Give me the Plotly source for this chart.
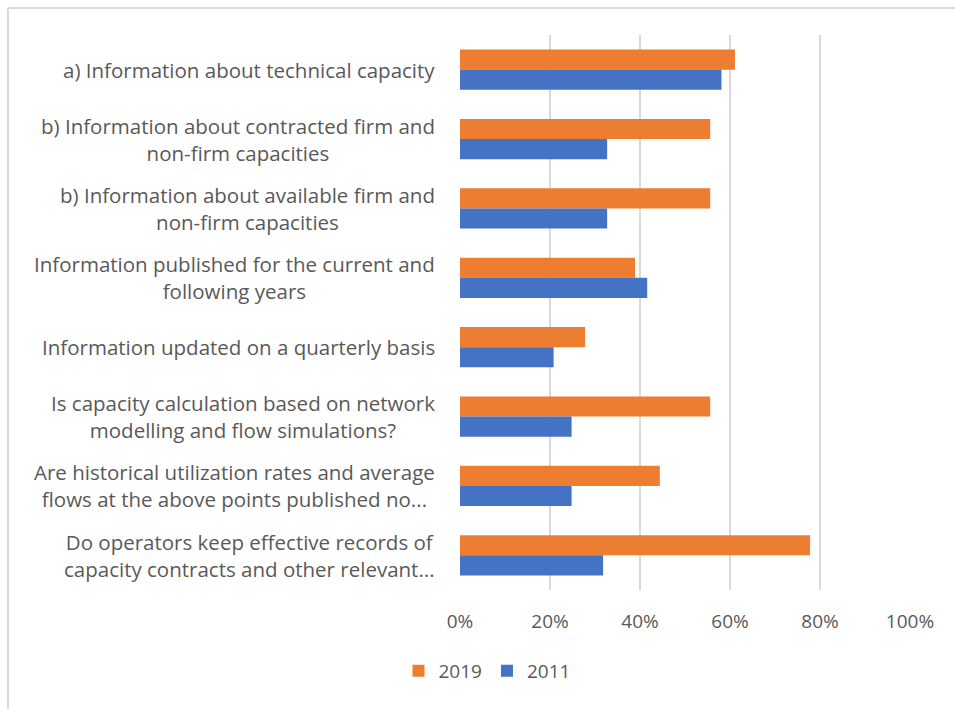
import plotly.graph_objects as go

categories = [
    "a) Information about technical capacity",
    "b) Information about contracted firm and<br>non-firm capacities",
    "b) Information about available firm and<br>non-firm capacities",
    "Information published for the current and<br>following years",
    "Information updated on a quarterly basis",
    "Is capacity calculation based on network<br>modelling and flow simulations?",
    "Are historical utilization rates and average<br>flows at the above points published no...",
    "Do operators keep effective records of<br>capacity contracts and other relevant...",
]
cat_ids = [f"c{i}" for i in range(len(categories))]
values_2019 = [0.611, 0.556, 0.556, 0.389, 0.278, 0.556, 0.444, 0.778]
values_2011 = [0.581, 0.327, 0.327, 0.416, 0.208, 0.248, 0.248, 0.318]
x_ticks = [0, 0.2, 0.4, 0.6, 0.8, 1.0]
x_tick_labels = ["0%", "20%", "40%", "60%", "80%", "100%"]

ORANGE = "#ED7D31"
BLUE = "#4472C4"
TXT = "#595959"
FONT = "Open Sans"

W, H = 955, 709
L, R, T, B = 460, 45, 35, 119
pw, ph = W - L - R, H - T - B

fig = go.Figure()
fig.add_trace(go.Bar(y=cat_ids, x=values_2019, name="2019", orientation="h",
                     marker=dict(color=ORANGE, line=dict(width=0))))
fig.add_trace(go.Bar(y=cat_ids, x=values_2011, name="2011", orientation="h",
                     marker=dict(color=BLUE, line=dict(width=0))))

annotations = []
for cid, label in zip(cat_ids, categories):
    annotations.append(dict(
        x=(437 - L) / pw, xref="paper", y=cid, yref="y",
        text=label, showarrow=False, xanchor="right", yanchor="middle",
        align="center", font=dict(family=FONT, size=20.5, color=TXT),
    ))

def px_x(p):
    return (p - L) / pw

def px_y(p):
    return (H - B - p) / ph

shapes = [
    dict(type="line", xref="paper", yref="paper", x0=px_x(8), x1=px_x(955),
         y0=px_y(8), y1=px_y(8), line=dict(color="#d9d9d9", width=2)),
    dict(type="line", xref="paper", yref="paper", x0=px_x(8), x1=px_x(8),
         y0=px_y(8), y1=px_y(709), line=dict(color="#d9d9d9", width=2)),
]

fig.update_layout(
    width=W, height=H,
    margin=dict(l=L, r=R, t=T, b=B, pad=0),
    paper_bgcolor="white", plot_bgcolor="white",
    barmode="group", bargap=0.42, bargroupgap=0,
    font=dict(family=FONT, color=TXT, size=19),
    xaxis=dict(range=[0, 1.0], tickvals=x_ticks, ticktext=x_tick_labels,
               showgrid=True, gridcolor="#d9d9d9", gridwidth=2,
               zeroline=False, showline=False,
               ticks="outside", ticklen=14, tickcolor="rgba(0,0,0,0)",
               tickfont=dict(family=FONT, size=19, color=TXT)),
    yaxis=dict(autorange="reversed", showticklabels=False, showgrid=False,
               zeroline=False, showline=False, ticks=""),
    legend=dict(orientation="h", x=px_x(487), xanchor="center",
                y=px_y(671), yanchor="middle", traceorder="normal",
                font=dict(family=FONT, size=19, color=TXT)),
    annotations=annotations,
    shapes=shapes,
)

fig.write_html("out.html")
